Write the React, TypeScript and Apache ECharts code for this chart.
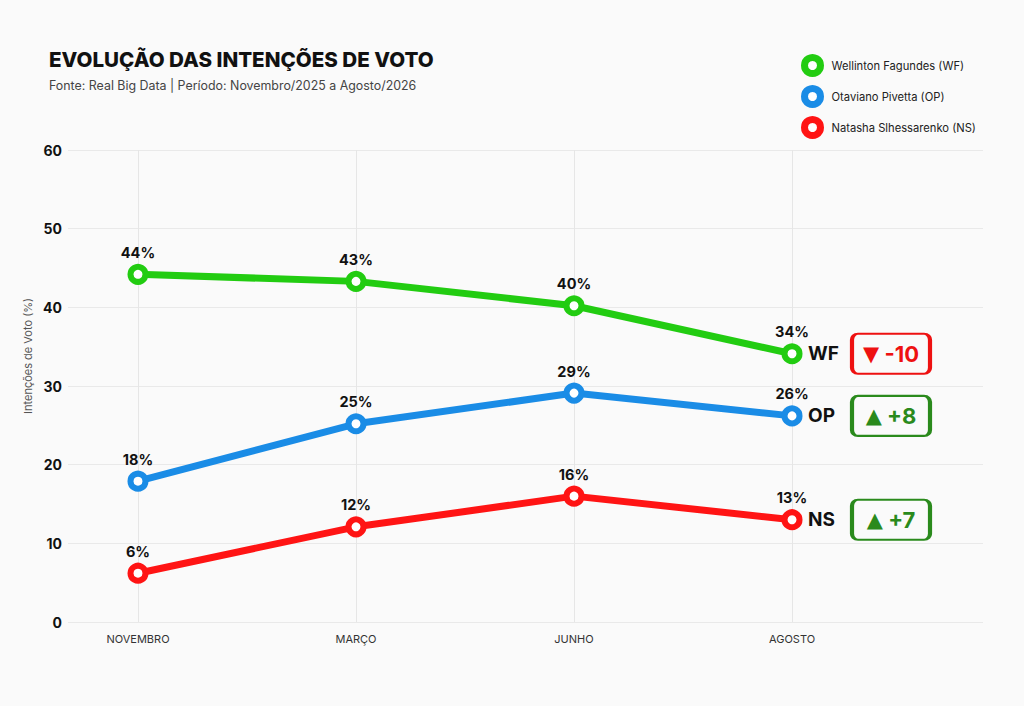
import React, { useEffect, useRef } from "react";
import * as echarts from "echarts";

const categories = ["NOVEMBRO", "MARÇO", "JUNHO", "AGOSTO"];
const wfValues = [44.2, 43.3, 40.2, 34.1];
const opValues = [17.9, 25.2, 29.1, 26.2];
const nsValues = [6.2, 12.1, 16.0, 13.0];
const yTicks = [0, 10, 20, 30, 40, 50, 60];

const seriesDefs = [
  { name: "Wellinton Fagundes (WF)", short: "WF", values: wfValues, color: "#22cc11" },
  { name: "Otaviano Pivetta (OP)", short: "OP", values: opValues, color: "#1a8ce6" },
  { name: "Natasha Slhessarenko (NS)", short: "NS", values: nsValues, color: "#ff1414" },
];

const FONT = "Inter, 'Noto Sans', sans-serif";
const BADGE_X = 3.454;
const BADGE_PATH =
  "path://M6,0H72A6,6,0,0,1,78,6V34A6,6,0,0,1,72,40H6A6,6,0,0,1,0,34V6A6,6,0,0,1,6,0Z";

export default function App() {
  const ref = useRef<HTMLDivElement>(null);

  useEffect(() => {
    if (!ref.current) return;
    const chart = echarts.init(ref.current, undefined, { renderer: "svg" });

    const series = seriesDefs.map((s) => {
      const first = Math.round(s.values[0]);
      const last = Math.round(s.values[s.values.length - 1]);
      const delta = last - first;
      const up = delta >= 0;
      const badgeColor = up ? "#2a8a1c" : "#ee1111";
      return {
        type: "line",
        name: s.name,
        data: s.values.map((v, i) => [i, v]),
        symbol: "circle",
        symbolSize: 15,
        lineStyle: { color: s.color, width: 7 },
        itemStyle: { color: "#ffffff", borderColor: s.color, borderWidth: 6 },
        z: 3,
        label: {
          show: true,
          position: "top",
          distance: 4,
          fontFamily: FONT,
          fontSize: 14.5,
          fontWeight: "bold",
          color: "#111",
          formatter: (p: any) => Math.round(p.value[1]) + "%",
        },
        endLabel: {
          show: true,
          formatter: () => s.short,
          fontFamily: FONT,
          fontSize: 19,
          fontWeight: "bold",
          color: "#111",
          distance: 16,
        },
        markPoint: {
          symbol: BADGE_PATH,
          symbolSize: [78, 40],
          symbolKeepAspect: false,
          itemStyle: { color: "#fafafa", borderColor: badgeColor, borderWidth: 3 },
          label: {
            show: true,
            position: "inside",
            formatter: () =>
              `{tri|${up ? "▲" : "▼"}}{num| ${up ? "+" : ""}${delta}}`,
            rich: {
              tri: { fontSize: 21, color: badgeColor, fontFamily: "DejaVu Sans" },
              num: { fontSize: 22, fontWeight: "bold", color: badgeColor, fontFamily: FONT },
            },
          },
          data: [{ coord: [BADGE_X, s.values[s.values.length - 1]], value: delta }],
        },
      };
    });

    chart.setOption({
      animation: false,
      backgroundColor: "#fafafa",
      textStyle: { fontFamily: FONT },
      title: {
        text: "EVOLUÇÃO DAS INTENÇÕES DE VOTO",
        subtext: "Fonte: Real Big Data | Período: Novembro/2025 a Agosto/2026",
        left: 44,
        top: 44,
        itemGap: 9,
        textStyle: { fontFamily: FONT, fontSize: 20.6, fontWeight: 800, color: "#111" },
        subtextStyle: { fontFamily: FONT, fontSize: 12.4, color: "#444" },
      },
      legend: {
        orient: "vertical",
        left: 796,
        top: 49,
        itemWidth: 16,
        itemHeight: 16,
        itemGap: 8,
        icon: "circle",
        itemStyle: { borderWidth: 7 },
        textStyle: {
          fontFamily: FONT,
          fontSize: 11.2,
          color: "#222",
          padding: [0, 0, 0, 6],
        },
        data: seriesDefs.map((s) => s.name),
      },
      grid: { left: 68, right: 41, top: 150, bottom: 84 },
      xAxis: {
        type: "value",
        min: -0.321,
        max: 3.876,
        axisLine: { show: false },
        axisTick: { show: false, customValues: [0, 1, 2, 3] },
        axisLabel: {
          customValues: [0, 1, 2, 3],
          formatter: (v: number) => categories[Math.round(v)] ?? "",
          fontFamily: FONT,
          fontSize: 11,
          color: "#333",
          margin: 11,
        },
        splitLine: { show: true, lineStyle: { color: "#e6e6e6", width: 1 } },
      },
      yAxis: {
        type: "value",
        min: yTicks[0],
        max: yTicks[yTicks.length - 1],
        interval: 10,
        axisLine: { show: false },
        axisTick: { show: false },
        axisLabel: {
          fontFamily: FONT,
          fontSize: 14,
          fontWeight: "bold",
          color: "#111",
          margin: 6,
        },
        splitLine: { show: true, lineStyle: { color: "#e9e9e9", width: 1 } },
      },
      graphic: [
        {
          type: "text",
          x: 28,
          y: 356,
          rotation: Math.PI / 2,
          style: {
            text: "Intenções de Voto (%)",
            fontFamily: FONT,
            fontSize: 11,
            fill: "#555",
            align: "center",
            verticalAlign: "middle",
          },
        },
      ],
      series,
    });

    return () => chart.dispose();
  }, []);

  return (
    <div
      ref={ref}
      style={{ position: "fixed", left: 0, top: 0, width: 1024, height: 706 }}
    />
  );
}
